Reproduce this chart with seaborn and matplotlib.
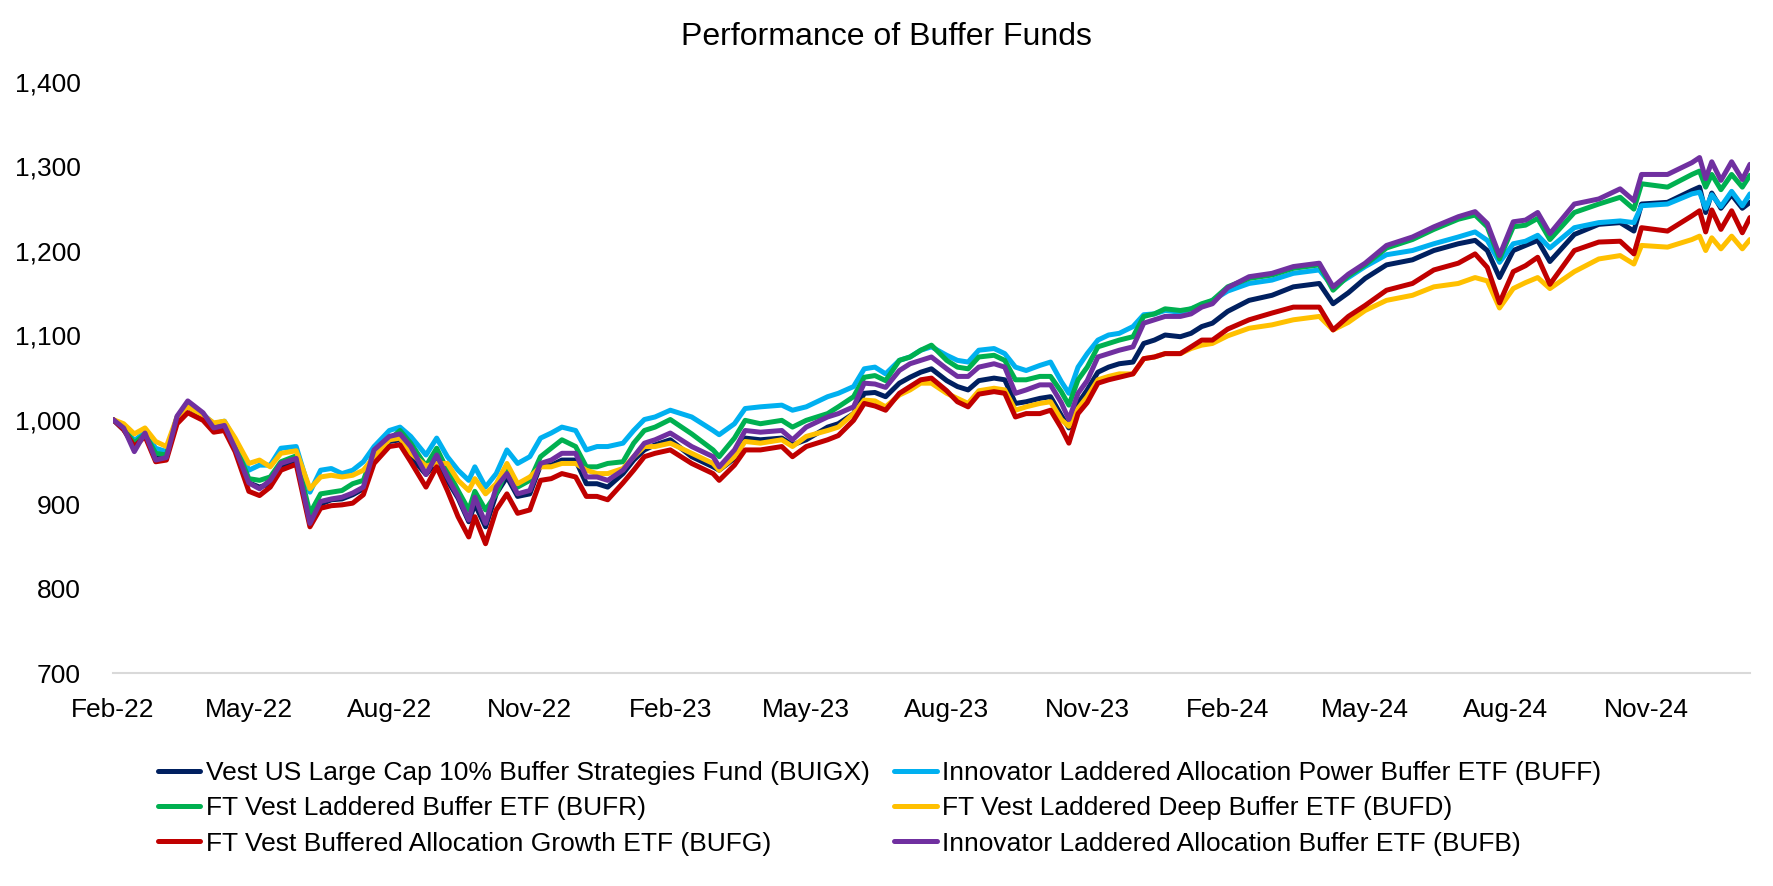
import matplotlib
matplotlib.use("Agg")

import matplotlib.dates as mdates
import matplotlib.pyplot as plt
import matplotlib.ticker as mticker
import pandas as pd
import seaborn as sns

# --- data (index level, start = 1,000) ---
dates = [
    "2022-02-01", "2022-02-08", "2022-02-15", "2022-02-22", "2022-03-01", "2022-03-08",
    "2022-03-15", "2022-03-22", "2022-04-01", "2022-04-08", "2022-04-15", "2022-04-22",
    "2022-05-01", "2022-05-08", "2022-05-15", "2022-05-22", "2022-06-01", "2022-06-10",
    "2022-06-17", "2022-06-24", "2022-07-01", "2022-07-08", "2022-07-15", "2022-07-22",
    "2022-08-01", "2022-08-08", "2022-08-15", "2022-08-25", "2022-09-01", "2022-09-08",
    "2022-09-15", "2022-09-22", "2022-09-26", "2022-10-03", "2022-10-10", "2022-10-17",
    "2022-10-24", "2022-11-01", "2022-11-08", "2022-11-15", "2022-11-22", "2022-12-01",
    "2022-12-08", "2022-12-15", "2022-12-22", "2023-01-01", "2023-01-08", "2023-01-15",
    "2023-01-22", "2023-02-01", "2023-02-15", "2023-03-01", "2023-03-05", "2023-03-15",
    "2023-03-22", "2023-04-01", "2023-04-15", "2023-04-22", "2023-05-01", "2023-05-15",
    "2023-05-22", "2023-06-01", "2023-06-08", "2023-06-15", "2023-06-22", "2023-07-01",
    "2023-07-08", "2023-07-15", "2023-07-22", "2023-08-01", "2023-08-08", "2023-08-15",
    "2023-08-22", "2023-09-01", "2023-09-08", "2023-09-15", "2023-09-22", "2023-10-01",
    "2023-10-08", "2023-10-15", "2023-10-20", "2023-10-26", "2023-11-01", "2023-11-08",
    "2023-11-15", "2023-11-22", "2023-12-01", "2023-12-08", "2023-12-15", "2023-12-22",
    "2024-01-01", "2024-01-08", "2024-01-15", "2024-01-22", "2024-02-01", "2024-02-15",
    "2024-03-01", "2024-03-15", "2024-04-01", "2024-04-10", "2024-04-20", "2024-05-01",
    "2024-05-15", "2024-06-01", "2024-06-15", "2024-07-01", "2024-07-12", "2024-07-20",
    "2024-07-28", "2024-08-06", "2024-08-14", "2024-08-22", "2024-08-30", "2024-09-15",
    "2024-10-01", "2024-10-15", "2024-10-24", "2024-10-29", "2024-11-15", "2024-12-01",
    "2024-12-06", "2024-12-10", "2024-12-14", "2024-12-20", "2024-12-27", "2025-01-03",
    "2025-01-08",
]

buigx = [
    1000, 988, 970, 982, 954, 955, 1000, 1015, 1004, 990, 992, 968,
    925, 920, 924, 945, 952, 879, 900, 905, 906, 911, 918, 958,
    974, 976, 956, 935, 950, 928, 907, 879, 900, 873, 912, 932,
    909, 912, 946, 946, 952, 952, 924, 924, 920, 936, 952, 964,
    970, 976, 956, 944, 940, 954, 978, 976, 978, 970, 976, 991,
    995, 1007, 1031, 1032, 1027, 1043, 1050, 1056, 1060, 1046, 1039, 1035,
    1046, 1049, 1047, 1019, 1021, 1025, 1027, 1005, 990, 1019, 1035, 1056,
    1062, 1066, 1068, 1090, 1094, 1100, 1098, 1102, 1110, 1114, 1128, 1141,
    1147, 1157, 1161, 1137, 1150, 1167, 1183, 1189, 1200, 1208, 1212, 1200,
    1168, 1200, 1206, 1212, 1187, 1219, 1231, 1233, 1223, 1255, 1257, 1271,
    1275, 1245, 1268, 1250, 1266, 1250, 1257,
]
buff = [
    1000, 992, 975, 985, 966, 962, 1003, 1016, 1006, 995, 998, 975,
    940, 946, 946, 966, 968, 914, 940, 942, 936, 940, 950, 968,
    987, 991, 980, 958, 978, 956, 940, 928, 944, 920, 936, 964,
    948, 956, 978, 984, 991, 987, 964, 968, 968, 972, 987, 1000,
    1003, 1011, 1003, 987, 982, 995, 1013, 1015, 1017, 1011, 1015, 1027,
    1031, 1039, 1060, 1062, 1054, 1070, 1074, 1082, 1086, 1076, 1070, 1068,
    1082, 1084, 1078, 1062, 1058, 1064, 1068, 1045, 1031, 1062, 1078, 1094,
    1100, 1102, 1110, 1124, 1125, 1129, 1127, 1131, 1135, 1141, 1152, 1161,
    1165, 1173, 1177, 1157, 1168, 1181, 1195, 1200, 1208, 1216, 1222, 1212,
    1186, 1208, 1211, 1218, 1203, 1227, 1233, 1235, 1233, 1253, 1255, 1267,
    1269, 1250, 1266, 1252, 1270, 1253, 1267,
]
bufr = [
    1000, 990, 972, 983, 960, 958, 1002, 1016, 1005, 992, 994, 970,
    930, 928, 932, 950, 957, 889, 912, 914, 916, 924, 928, 962,
    976, 987, 972, 945, 966, 940, 916, 893, 915, 893, 912, 940,
    920, 928, 956, 966, 976, 968, 944, 944, 948, 950, 972, 987,
    991, 1000, 983, 964, 956, 978, 999, 995, 999, 991, 999, 1007,
    1015, 1027, 1050, 1052, 1046, 1070, 1074, 1082, 1088, 1070, 1062, 1060,
    1074, 1076, 1070, 1047, 1047, 1051, 1051, 1033, 1017, 1047, 1062, 1086,
    1090, 1094, 1098, 1122, 1125, 1131, 1129, 1131, 1137, 1141, 1157, 1167,
    1171, 1179, 1183, 1153, 1170, 1183, 1203, 1213, 1225, 1237, 1242, 1228,
    1190, 1228, 1230, 1238, 1213, 1245, 1255, 1263, 1249, 1279, 1275, 1290,
    1294, 1275, 1290, 1272, 1290, 1275, 1289,
]
bufd = [
    1000, 995, 983, 990, 974, 968, 1003, 1015, 1005, 996, 998, 978,
    948, 952, 944, 960, 963, 918, 932, 934, 932, 934, 940, 956,
    976, 978, 960, 945, 948, 948, 928, 916, 930, 912, 924, 948,
    924, 932, 944, 944, 948, 948, 940, 936, 936, 942, 956, 968,
    968, 972, 960, 948, 940, 956, 974, 972, 976, 968, 980, 987,
    991, 1007, 1023, 1022, 1015, 1029, 1035, 1043, 1043, 1031, 1025, 1019,
    1034, 1037, 1035, 1011, 1015, 1019, 1021, 1000, 992, 1013, 1027, 1047,
    1051, 1054, 1054, 1072, 1074, 1078, 1078, 1084, 1088, 1090, 1099, 1108,
    1112, 1118, 1122, 1106, 1115, 1129, 1141, 1147, 1157, 1161, 1168, 1164,
    1132, 1155, 1162, 1168, 1155, 1175, 1190, 1194, 1184, 1206, 1204, 1213,
    1217, 1200, 1215, 1202, 1217, 1202, 1213,
]
bufg = [
    1000, 988, 968, 980, 950, 952, 995, 1008, 999, 985, 987, 962,
    915, 910, 920, 940, 947, 873, 895, 898, 899, 901, 911, 948,
    968, 970, 950, 920, 944, 916, 885, 861, 885, 853, 893, 912,
    889, 893, 928, 930, 936, 932, 909, 909, 905, 925, 940, 956,
    960, 964, 948, 936, 928, 946, 964, 964, 968, 956, 968, 976,
    981, 999, 1019, 1016, 1011, 1031, 1039, 1047, 1049, 1034, 1021, 1015,
    1030, 1033, 1031, 1003, 1007, 1007, 1011, 990, 972, 1007, 1020, 1043,
    1047, 1050, 1054, 1072, 1074, 1078, 1078, 1086, 1094, 1094, 1107, 1118,
    1126, 1133, 1133, 1106, 1122, 1135, 1153, 1161, 1177, 1185, 1196, 1180,
    1138, 1175, 1182, 1192, 1160, 1200, 1210, 1211, 1196, 1227, 1223, 1241,
    1247, 1222, 1248, 1225, 1247, 1221, 1239,
]
bufb = [
    1000, 990, 962, 984, 952, 955, 1004, 1022, 1008, 990, 993, 966,
    925, 918, 928, 948, 954, 877, 903, 906, 908, 913, 920, 964,
    980, 983, 968, 935, 958, 932, 909, 881, 908, 877, 920, 936,
    912, 916, 948, 952, 960, 960, 932, 932, 928, 940, 956, 972,
    976, 984, 968, 956, 944, 964, 987, 985, 987, 976, 991, 1003,
    1007, 1015, 1043, 1042, 1038, 1058, 1066, 1070, 1074, 1060, 1051, 1051,
    1062, 1066, 1062, 1031, 1035, 1041, 1041, 1020, 1000, 1031, 1046, 1074,
    1078, 1082, 1086, 1114, 1118, 1122, 1122, 1125, 1133, 1137, 1156, 1169,
    1173, 1181, 1185, 1157, 1172, 1185, 1206, 1216, 1228, 1240, 1246, 1232,
    1194, 1234, 1236, 1245, 1220, 1255, 1261, 1273, 1259, 1290, 1290, 1304,
    1310, 1285, 1305, 1283, 1305, 1284, 1302,
]

fund_names = [
    "Vest US Large Cap 10% Buffer Strategies Fund (BUIGX)",
    "Innovator Laddered Allocation Power Buffer ETF (BUFF)",
    "FT Vest Laddered Buffer ETF (BUFR)",
    "FT Vest Laddered Deep Buffer ETF (BUFD)",
    "FT Vest Buffered Allocation Growth ETF (BUFG)",
    "Innovator Laddered Allocation Buffer ETF (BUFB)",
]
fund_colors = ["#002060", "#00B0F0", "#00B050", "#FFC000", "#C00000", "#7030A0"]


def build_frame() -> pd.DataFrame:
    wide = pd.DataFrame(
        {
            fund_names[0]: buigx,
            fund_names[1]: buff,
            fund_names[2]: bufr,
            fund_names[3]: bufd,
            fund_names[4]: bufg,
            fund_names[5]: bufb,
        },
        index=pd.to_datetime(dates),
    )
    wide.index.name = "date"
    return wide.reset_index().melt(id_vars="date", var_name="fund", value_name="value")


def plot_funds(df: pd.DataFrame, out_path: str = "out.png"):
    sns.set_style("white")
    plt.rcParams["font.family"] = ["Liberation Sans", "DejaVu Sans"]
    plt.rcParams["text.color"] = "black"

    fig = plt.figure(figsize=(17.73, 8.86), dpi=100)
    ax = fig.add_axes([0.0637, 0.2404, 0.9233, 0.6676])

    sns.lineplot(
        data=df, x="date", y="value", hue="fund",
        hue_order=fund_names, palette=fund_colors,
        linewidth=3.6, ax=ax, legend=False,
    )

    ax.set_xlim(pd.Timestamp("2022-02-01"), pd.Timestamp("2025-01-08"))
    ax.set_ylim(700, 1400)
    ax.yaxis.set_major_locator(mticker.MultipleLocator(100))
    ax.yaxis.set_major_formatter(mticker.StrMethodFormatter("{x:,.0f}"))
    ax.xaxis.set_major_locator(mdates.MonthLocator(bymonth=[2, 5, 8, 11], bymonthday=1))
    ax.xaxis.set_major_formatter(mdates.DateFormatter("%b-%y"))

    ax.set_xlabel("")
    ax.set_ylabel("")
    for side in ["top", "right", "left"]:
        ax.spines[side].set_visible(False)
    ax.spines["bottom"].set_color("#D9D9D9")
    ax.spines["bottom"].set_linewidth(1.5)

    ax.tick_params(axis="y", length=0, pad=23, labelsize=19, colors="black")
    ax.tick_params(axis="x", length=5, width=1.5, color="#D9D9D9",
                   pad=13, labelsize=19, labelcolor="black", direction="out")

    fig.text(0.5, 0.958, "Performance of Buffer Funds", ha="center", va="center",
             fontsize=23, color="black")

    # legend is filled column-first, so reorder to get the reference's rows
    lines = ax.get_lines()
    order = [0, 2, 4, 1, 3, 5]
    fig.legend(
        [lines[i] for i in order], [fund_names[i] for i in order],
        ncol=2, loc="upper left", bbox_to_anchor=(158 / 1773, 1 - 761 / 886),
        frameon=False, fontsize=19, labelcolor="black",
        handlelength=1.6, handletextpad=0.2,
        columnspacing=0.95, labelspacing=0.43, borderpad=0, borderaxespad=0,
    )

    fig.savefig(out_path, dpi=100)
    plt.close(fig)


def main() -> None:
    df = build_frame()
    plot_funds(df, "out.png")


if __name__ == "__main__":
    main()
